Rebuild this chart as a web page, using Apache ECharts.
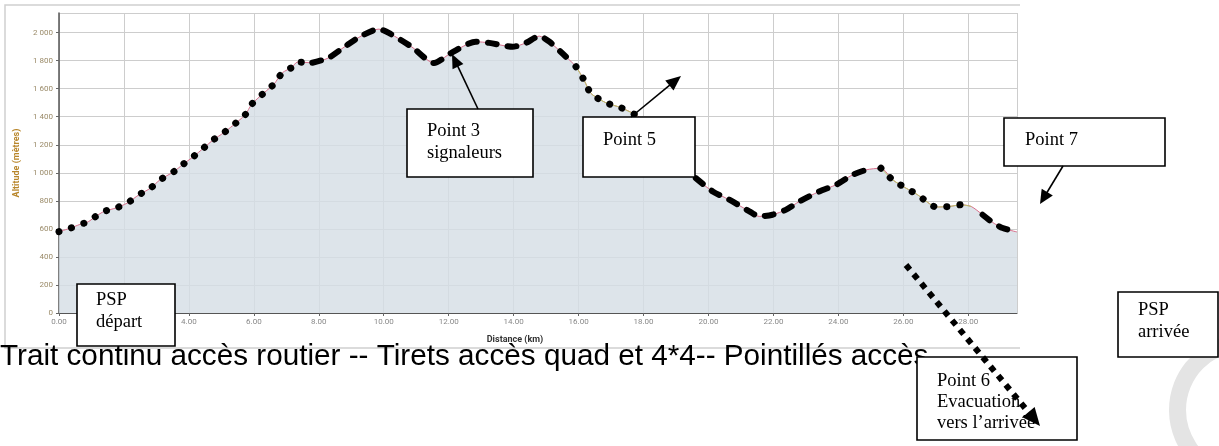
<!DOCTYPE html>
<html><head><meta charset="utf-8">
<script src="https://cdn.jsdelivr.net/npm/echarts@6/dist/echarts.min.js"></script>
<style>html,body{margin:0;padding:0;background:#fff}#c{width:1219px;height:446px}</style>
</head><body><div id="c"></div>
<script>
// ---- data ----
const distanceKm = [0.0,0.36,0.62,0.9,1.13,1.39,1.75,2.1,2.46,2.82,3.11,3.54,3.8,4.14,4.45,4.75,5.08,5.34,5.73,5.94,6.32,6.62,6.88,7.17,7.34,7.8,8.3,8.8,9.3,9.85,10.17,10.87,11.55,12.07,12.84,13.25,13.97,14.38,14.79,15.1,15.61,15.92,16.17,16.38,16.84,17.3,17.82,18.3,18.8,19.2,19.61,20.13,20.64,21.26,21.56,21.97,22.39,22.8,23.41,23.93,24.44,24.85,25.31,25.67,26.08,26.44,26.75,27.0,27.42,27.78,28.09,28.44,28.75,29.06,29.5];
const altitudeM = [580,606,630,651,689,725,749,784,843,891,950,1009,1057,1116,1176,1235,1287,1335,1413,1491,1572,1633,1714,1752,1790,1785,1820,1900,1975,2025,1996,1897,1783,1854,1935,1927,1899,1927,1975,1935,1828,1757,1661,1567,1500,1465,1406,1310,1180,1070,962,867,808,725,689,701,737,796,867,915,986,1021,1033,950,891,843,789,756,760,772,760,701,646,606,578];
// access type along the track (km ranges)
const pedestrianRanges = [[0,7.8],[15.92,17.82],[25.31,28.09]];
const quadRanges = [[7.8,15.61],[19.61,24.85],[28.44,29.5]];
const yTicks = [0,200,400,600,800,1000,1200,1400,1600,1800,2000];
const xTitle = 'Distance (km)';
const yTitle = 'Altitude (mètres)';
const legendText = 'Trait continu accès routier -- Tirets accès quad et 4*4-- Pointillés accès';

// ---- build ----
const profile = distanceKm.map((d,i)=>[d, altitudeM[i]]);
function rangesData(ranges){
  const out = [];
  ranges.forEach((r,k)=>{
    profile.forEach(p=>{ if(p[0]>=r[0]-1e-9 && p[0]<=r[1]+1e-9) out.push(p); });
    if(k<ranges.length-1) out.push([r[1]+0.001,'-']);
  });
  return out;
}
const fmtThousands = v => String(v).replace(/\B(?=(\d{3})+(?!\d))/g,' ');

function arrow(x1,y1,x2,y2,opt){
  opt = opt||{};
  const len = opt.head||13, w = opt.headW||5.5;
  const dx=x2-x1, dy=y2-y1, L=Math.hypot(dx,dy), ux=dx/L, uy=dy/L;
  const bx=x2-ux*len, by=y2-uy*len;
  return [{
    type:'line', z:50,
    shape:{x1:x1,y1:y1,x2:bx+ux*2,y2:by+uy*2},
    style:{stroke:'#000',lineWidth:opt.lw||1.6,lineDash:opt.dash||null,lineCap:'butt'}
  },{
    type:'polygon', z:50,
    shape:{points:[[x2,y2],[bx-uy*w,by+ux*w],[bx+uy*w,by-ux*w]]},
    style:{fill:'#000'}
  }];
}
function box(x,y,w,h,lines,tx,ty,lh){
  const g = [{type:'rect',z:40,shape:{x:x,y:y,width:w,height:h},
    style:{fill:'#fff',stroke:'#000',lineWidth:1.6}}];
  lines.forEach((t,i)=>g.push({type:'text',z:41,x:tx,y:ty+i*lh,
    style:{text:t,font:'18.5px "Liberation Serif", "Times New Roman", serif',fill:'#000',textVerticalAlign:'middle'}}));
  return g;
}

const graphics = [].concat(
  [{type:'polyline',z:1,shape:{points:[[1020,5],[5,5],[5,348],[1020,348]]},style:{stroke:'#d0d0d0',lineWidth:1.5,fill:null}}],
  [{type:'text',z:30,x:0,y:357,style:{text:legendText,font:'29.7px "Liberation Sans", Arial, sans-serif',fill:'#000',textVerticalAlign:'middle'}}],
  [{type:'sector',z:5,shape:{cx:1245,cy:410,r:76,r0:59,startAngle:Math.PI*0.62,endAngle:Math.PI*1.5,clockwise:true},style:{fill:'#e4e4e4'}}],
  box(77,284,98,62,['PSP','départ'],96,300,22),
  box(407,109,126,68,['Point 3','signaleurs'],427,131,22),
  box(583,117,112,60,['Point 5'],603,140,22),
  box(1004,118,161,48,['Point 7'],1025,140,22),
  box(1118,292,100,65,['PSP','arrivée'],1138,310,22),
  box(917,357,160,83,['Point 6','Evacuation','vers l’arrivée'],937,381,21),
  arrow(478,109,452,54,{head:14,headW:6}),
  arrow(631,117,681,76,{head:15,headW:6.5}),
  arrow(1063,166,1040,204,{head:14,headW:6.5}),
  arrow(906,265,1040,426,{head:18,headW:8,lw:6,dash:[6,6]})
);

const chart = echarts.init(document.getElementById('c'),null,{renderer:'canvas'});
chart.setOption({
  animation:false,
  backgroundColor:'#fff',
  grid:{left:59,right:202,top:13,bottom:133,containLabel:false},
  xAxis:{type:'value',min:0,max:29.5,interval:2,
    name:xTitle,nameLocation:'middle',nameGap:22,
    nameTextStyle:{fontFamily:'Roboto',fontSize:9,fontWeight:'bold',color:'#333',padding:[0,46,0,0]},
    axisLine:{lineStyle:{color:'#555',width:1.2}},
    axisTick:{show:true,length:3,lineStyle:{color:'#666'}},
    axisLabel:{showMaxLabel:false,fontFamily:'Roboto',fontSize:8,color:'#888',margin:5,formatter:v=>v.toFixed(2)},
    splitLine:{show:true,lineStyle:{color:'#cdcdcd',width:1}}},
  yAxis:{type:'value',min:yTicks[0],max:2140,interval:200,
    name:yTitle,nameLocation:'middle',nameRotate:90,nameGap:38,
    nameTextStyle:{fontFamily:'Roboto',fontSize:9,fontWeight:'bold',color:'#b8862b'},
    axisLine:{show:true,lineStyle:{color:'#555',width:1.5}},
    axisTick:{show:true,length:3,lineStyle:{color:'#666'}},
    axisLabel:{showMaxLabel:false,fontFamily:'Roboto',fontSize:8,color:'#9a8a68',margin:6,
      formatter:v=>(v%200===0?fmtThousands(v):'')},
    splitLine:{show:true,lineStyle:{color:'#cdcdcd',width:1}}},
  series:[
    {type:'line',data:profile,smooth:0.25,symbol:'none',z:2,
      lineStyle:{color:'#d9708c',width:1},
      areaStyle:{color:'#d6dee5',opacity:0.82}},
    {type:'line',data:rangesData(pedestrianRanges.slice(1)),smooth:0.25,symbol:'none',z:3,connectNulls:false,
      lineStyle:{color:'#b9c86a',width:1}},
    {type:'line',data:rangesData(quadRanges),smooth:0.25,symbol:'none',z:4,connectNulls:false,
      lineStyle:{color:'#000',width:6,type:[9,11],cap:'round'}},
    {type:'line',data:rangesData(pedestrianRanges),smooth:0.25,symbol:'none',z:4,connectNulls:false,
      lineStyle:{color:'#000',width:7,type:[0.1,13],cap:'round'}}
  ],
  graphic:graphics
});
</script></body></html>
